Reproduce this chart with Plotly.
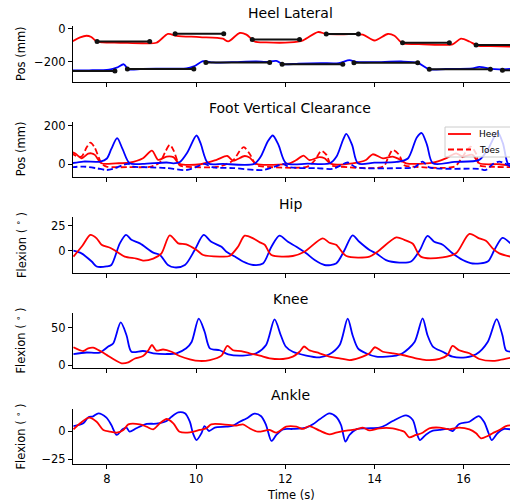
import plotly.graph_objects as go

# ---------------- data ----------------
# Heel Lateral (mm)
hl_r_t = [7.20, 7.40, 7.54, 7.65, 7.77, 7.90, 8.3, 8.8, 9.11, 9.37, 9.56, 10.08, 10.60, 10.72, 10.98, 11.13, 11.31, 11.57, 12.1, 12.4, 12.73, 12.92, 13.3, 13.74, 14.0, 14.30, 14.45, 14.63, 15.0, 15.5, 15.75, 15.94, 16.13, 16.31, 16.6, 17.05]
hl_r_v = [-80, -52, -42, -50, -77, -83, -85, -88, -85, -31, -42, -50, -60, -77, -25, -35, -77, -83, -83, -70, -19, -31, -33, -35, -71, -31, -42, -88, -93, -98, -95, -60, -77, -102, -105, -108]
hl_b_t = [7.20, 7.6, 8.05, 8.22, 8.38, 8.48, 8.8, 9.4, 9.78, 9.95, 10.16, 10.38, 10.8, 11.35, 11.57, 11.80, 11.95, 12.3, 12.8, 13.2, 13.44, 13.59, 14.0, 14.6, 14.97, 15.23, 15.6, 16.20, 16.35, 16.6, 16.80, 17.05]
hl_b_v = [-254, -254, -250, -238, -217, -248, -245, -244, -243, -230, -198, -206, -204, -199, -203, -196, -217, -213, -210, -210, -192, -203, -204, -200, -208, -248, -246, -242, -233, -245, -248, -245]
# ground-contact segments (start, end, level)
seg_r_start = [7.78, 9.53, 11.26, 12.92, 14.63, 16.28]
seg_r_end = [8.96, 10.62, 12.32, 13.64, 15.68, 17.30]
seg_r_level = [-77, -29, -65, -31, -85, -98]
seg_b_start = [7.00, 8.46, 10.22, 11.93, 13.54, 15.23, 16.87]
seg_b_end = [8.18, 9.95, 11.65, 13.29, 14.97, 16.60, 17.50]
seg_b_level = [-258, -246, -206, -217, -208, -248, -254]

# Foot Vertical Clearance (mm)
fv_rh_t = [7.20, 7.30, 7.43, 7.58, 7.65, 7.73, 7.88, 8.2, 8.5, 8.81, 9.01, 9.15, 9.34, 9.49, 9.63, 10.1, 10.46, 10.70, 10.83, 11.09, 11.20, 11.35, 12.1, 12.25, 12.41, 12.54, 12.77, 12.88, 13.03, 13.51, 13.81, 13.96, 14.19, 14.41, 14.56, 14.71, 15.3, 15.60, 15.83, 15.98, 16.20, 16.35, 16.8, 17.05]
fv_rh_v = [65, 55, 31, 55, 57, 49, 5, 5, 8, 31, 71, 23, 40, 37, 2, 0, 23, 43, 19, 43, 35, 2, 5, 22, 45, 22, 37, 31, 2, 5, 22, 52, 31, 40, 26, 5, 8, 31, 57, 40, 49, 5, 0, -7]
fv_rt_t = [7.20, 7.30, 7.43, 7.55, 7.63, 7.72, 7.88, 7.99, 8.5, 9.0, 9.19, 9.30, 9.41, 9.50, 9.63, 9.75, 10.5, 10.83, 10.98, 11.07, 11.20, 11.35, 11.5, 12.5, 12.66, 12.81, 12.92, 13.03, 13.2, 14.2, 14.30, 14.41, 14.55, 14.67, 14.85, 15.8, 15.95, 16.16, 16.28, 16.35, 16.5, 17.05]
fv_rt_v = [60, 45, 40, 90, 113, 90, 5, -12, -15, -12, 10, 60, 101, 70, -5, -12, -13, 20, 70, 89, 55, -5, -12, -12, 20, 70, 50, -5, -12, -12, 30, 75, 50, -5, -12, -12, 30, 92, 55, -5, -12, -15]
fv_lh_t = [7.20, 7.47, 7.85, 8.0, 8.10, 8.23, 8.35, 8.51, 8.8, 9.34, 9.49, 9.63, 9.80, 10.01, 10.10, 10.27, 10.6, 11.3, 11.45, 11.61, 11.72, 11.85, 12.02, 12.5, 13.0, 13.15, 13.30, 13.37, 13.50, 13.63, 14.0, 14.5, 14.75, 14.95, 15.06, 15.18, 15.31, 15.8, 16.35, 16.55, 16.76, 16.88, 16.99, 17.05]
fv_lh_v = [5, 14, 14, 30, 80, 136, 80, 5, 2, 9, 5, 10, 60, 150, 110, 5, 2, 2, 40, 120, 150, 100, 5, 3, 5, 40, 130, 158, 100, 5, 8, 12, 30, 140, 163, 100, 5, 12, 23, 80, 167, 110, 5, 2]
fv_lt_t = [7.20, 7.47, 7.77, 7.99, 8.14, 8.35, 8.48, 8.59, 8.96, 9.34, 9.78, 10.05, 10.19, 10.38, 10.83, 11.50, 11.80, 11.95, 12.10, 12.69, 13.07, 13.25, 13.40, 13.59, 14.56, 14.90, 15.08, 15.23, 16.35, 16.50, 16.65, 16.80, 17.05]
fv_lt_v = [-16, -12, -21, -30, -24, -5, 2, -12, -16, -20, -30, -10, 2, -16, -20, -30, -10, 2, -16, -20, -24, -5, 9, -16, -20, -15, 14, -16, -24, -30, 0, 14, -12]
legend_names = ["Heel", "Toes"]

# Hip flexion (deg)
hip_r_t = [7.25, 7.45, 7.63, 7.77, 7.88, 8.07, 8.22, 8.40, 8.66, 8.81, 9.04, 9.22, 9.41, 9.60, 9.78, 10.01, 10.16, 10.53, 10.75, 10.94, 11.09, 11.28, 11.43, 11.54, 11.69, 12.17, 12.43, 12.84, 12.99, 13.14, 13.37, 13.89, 14.07, 14.49, 14.67, 14.86, 15.04, 15.53, 15.83, 16.13, 16.35, 16.50, 16.65, 16.80, 17.05]
hip_r_v = [-6, 5, 16, 12.5, 6, 3, -1, -6, -8, -10, -8, -3, 15.5, 7.4, 6.4, 0.7, -4.4, -6, -5.4, 4, 15.2, 12.5, 8.4, 6, -4.4, -5.4, -1, 12.5, 8, 6, -5.4, -6, -1, 13.5, 11, 7, -6, -6.8, -2.7, 17, 12.5, 10, 2.4, -2.7, -6]
hip_l_t = [7.25, 7.43, 7.66, 7.77, 7.99, 8.10, 8.29, 8.43, 8.55, 8.74, 9.04, 9.19, 9.37, 9.52, 9.75, 9.97, 10.17, 10.34, 10.57, 10.68, 10.87, 11.05, 11.28, 11.50, 11.69, 11.87, 12.06, 12.25, 12.47, 12.66, 12.88, 13.14, 13.33, 13.51, 13.66, 13.89, 14.04, 14.26, 14.56, 14.82, 15.02, 15.19, 15.34, 15.53, 15.75, 15.98, 16.20, 16.54, 16.69, 16.87, 17.05]
hip_l_v = [0, -2.7, -11, -16, -16, -14.5, 7.4, 16, 11, 7.4, -2, -4.4, -14.5, -17, -14.5, 0.7, 16, 9, 4, -1, -6, -11, -14.5, -13, 4, 15.2, 9, 4, -2.7, -9.5, -14.5, -13, 0.7, 15.5, 9, 0.7, -2.7, -9.5, -12, -11, 0.7, 15, 9, 6, -2.7, -9.5, -13, -11, 0.7, 13, 7.4]

# Knee flexion (deg)
knee_l_t = [7.25, 7.54, 7.84, 8.03, 8.14, 8.31, 8.44, 8.55, 8.81, 9.04, 9.34, 9.56, 9.78, 9.90, 10.06, 10.19, 10.31, 10.53, 10.72, 11.05, 11.35, 11.57, 11.76, 11.90, 12.01, 12.17, 12.47, 12.77, 12.99, 13.22, 13.40, 13.51, 13.63, 13.81, 14.04, 14.49, 14.63, 14.90, 15.08, 15.19, 15.31, 15.53, 15.75, 16.05, 16.28, 16.54, 16.74, 16.87, 16.95, 17.05]
knee_l_v = [15, 17, 17, 25, 29, 57, 40, 18, 19, 16, 15, 16, 22.6, 31, 62, 45, 22.6, 20, 14.6, 13, 16, 27, 61, 40, 25, 18, 13, 10.6, 14.6, 27, 62, 40, 22.6, 16, 11.5, 13, 16, 31, 62.4, 40, 25, 18, 11.5, 10.6, 14.6, 31, 61.5, 40, 20, 18]
knee_r_t = [7.25, 7.47, 7.58, 7.69, 7.88, 8.03, 8.18, 8.33, 8.48, 8.63, 8.81, 8.93, 9.01, 9.11, 9.26, 9.45, 9.63, 9.86, 10.08, 10.31, 10.57, 10.70, 10.83, 11.01, 11.20, 11.43, 11.65, 11.95, 12.17, 12.32, 12.42, 12.54, 12.77, 12.99, 13.22, 13.44, 13.66, 13.89, 14.01, 14.19, 14.41, 14.63, 14.93, 15.16, 15.46, 15.64, 15.75, 15.90, 16.13, 16.35, 16.65, 16.80, 17.05]
knee_r_v = [24, 19, 22.6, 23.5, 18, 12.4, 7, 2.7, 4, 9, 12.4, 20, 27, 19.5, 21, 18, 12.4, 8, 5.8, 7, 12.8, 25.7, 20, 19, 16, 12.8, 9.3, 8.4, 11.5, 18, 25, 20, 16, 11.5, 9.3, 7, 10, 16, 24, 18, 16, 13.7, 9.3, 7, 8.4, 13.7, 25.7, 20, 16, 8.4, 5.8, 7, 10]

# Ankle flexion (deg)
ank_l_t = [7.25, 7.47, 7.58, 7.69, 7.81, 7.99, 8.10, 8.22, 8.35, 8.44, 8.51, 8.66, 8.89, 9.11, 9.34, 9.45, 9.60, 9.75, 9.86, 9.93, 10.01, 10.12, 10.19, 10.29, 10.42, 10.68, 10.83, 10.98, 11.13, 11.31, 11.46, 11.57, 11.69, 11.80, 11.95, 12.17, 12.47, 12.62, 12.77, 12.99, 13.14, 13.25, 13.35, 13.44, 13.59, 13.81, 14.11, 14.26, 14.41, 14.71, 14.86, 14.95, 15.02, 15.16, 15.31, 15.46, 15.64, 15.75, 15.90, 16.13, 16.34, 16.46, 16.56, 16.63, 16.76, 16.91, 17.05]
ank_l_v = [4.4, 6.8, 12, 13, 15.6, 11.8, 5.3, -3.5, 1.5, 3, -0.6, 2.4, 6.2, 6.5, 8.8, 12.6, 16.5, 15.6, 8.2, -2, -8, -2, 4.4, 0, 3, 3.8, 4.7, 8.2, 11, 15.3, 13, 5.3, -8.8, -3.5, 1.5, 1.8, 3, 5.9, 10.3, 15.6, 12.6, 5.3, -9.4, -3.5, 1.5, 2.4, 3, 5.3, 8.8, 13.8, 9.7, -2, -8, -3, 0.3, 1, 1.8, 0, 6.2, 8.2, 13.2, 8, -2, -8, -2, 1.8, 1.5]
ank_r_t = [7.25, 7.40, 7.60, 7.77, 7.92, 8.07, 8.22, 8.37, 8.48, 8.74, 8.89, 9.04, 9.19, 9.34, 9.49, 9.63, 9.86, 10.08, 10.23, 10.34, 10.60, 10.90, 11.05, 11.20, 11.39, 11.65, 11.80, 12.02, 12.25, 12.40, 12.54, 12.77, 12.99, 13.14, 13.37, 13.59, 13.74, 13.89, 14.11, 14.41, 14.56, 14.67, 14.78, 14.93, 15.08, 15.23, 15.46, 15.68, 15.90, 16.13, 16.28, 16.39, 16.54, 16.65, 16.80, 16.95, 17.05]
ank_r_v = [1.5, 6.8, 11.8, 8.2, 0.9, -0.6, -1.5, 0.9, 5.9, 5.9, 3.8, 1.5, 6.8, 10.6, 6.8, -0.6, -1.2, 0.9, 2.4, 5.9, 5.9, 4.7, 5.9, 2.4, -0.6, 0.9, -1.5, 3.8, 3.8, 1.8, 4.4, 0.3, -2.9, -1.5, 0.3, 1.5, 3, 0.5, 2.4, 2.4, 0.9, -0.6, -5.6, -3.5, -1.5, 2.4, 3, 1.5, 3, 1.5, -2, -6.5, -4.4, -2, 0.9, 4.4, 5]

titles = ["Heel Lateral", "Foot Vertical Clearance", "Hip", "Knee", "Ankle"]
ylabels = ["Pos (mm)", "Pos (mm)", "Flexion ( <sup>∘</sup> )", "Flexion ( <sup>∘</sup> )", "Flexion ( <sup>∘</sup> )"]
ytickvals = [[-200, 0], [0, 200], [0, 25], [0, 50], [-25, 0]]
yranges = [[-326, 18], [-65, 222], [-22.3, 33.8], [-4, 70], [-29.4, 19.7]]
xtickvals = [8, 10, 12, 14, 16]
xrange_ = [7.24, 17.04]

# ---------------- layout geometry (screen pixels) ----------------
W, H = 510, 504
L = 73
panel_px = [(26, 82), (121.7, 176.7), (217.3, 272.7), (312.7, 368.3), (408.7, 464.3)]

def px(x):
    return (x - L) / (W - L)

def py(y):
    return 1 - y / H

RED = "#ff0000"
BLUE = "#0000ff"
LW = 1.8
DASH = "6px,3px"
FONT = "DejaVu Sans"

fig = go.Figure()

def add(t, v, color, idx, dash="solid"):
    fig.add_trace(go.Scatter(
        x=t, y=v, mode="lines", line=dict(color=color, width=LW, dash=dash, shape="spline", smoothing=0.8),
        xaxis="x" if idx == 1 else f"x{idx}", yaxis="y" if idx == 1 else f"y{idx}",
        showlegend=False, hoverinfo="skip"))

# panel 1
add(hl_r_t, hl_r_v, RED, 1)
add(hl_b_t, hl_b_v, BLUE, 1)
for st, en, lv in ((seg_r_start, seg_r_end, seg_r_level), (seg_b_start, seg_b_end, seg_b_level)):
    xs, ys = [], []
    for a, b, c in zip(st, en, lv):
        xs += [a, b, None]
        ys += [c, c, None]
    fig.add_trace(go.Scatter(x=xs, y=ys, mode="lines+markers",
                             line=dict(color="#111111", width=2), marker=dict(color="#111111", size=5),
                             xaxis="x", yaxis="y", showlegend=False, hoverinfo="skip"))
# panel 2
add(fv_rh_t, fv_rh_v, RED, 2)
add(fv_rt_t, fv_rt_v, RED, 2, dash=DASH)
add(fv_lh_t, fv_lh_v, BLUE, 2)
add(fv_lt_t, fv_lt_v, BLUE, 2, dash=DASH)
# panel 3-5
add(hip_l_t, hip_l_v, BLUE, 3)
add(hip_r_t, hip_r_v, RED, 3)
add(knee_l_t, knee_l_v, BLUE, 4)
add(knee_r_t, knee_r_v, RED, 4)
add(ank_l_t, ank_l_v, BLUE, 5)
add(ank_r_t, ank_r_v, RED, 5)

layout = dict(
    width=W, height=H, margin=dict(l=L, r=0, t=0, b=0, autoexpand=False),
    paper_bgcolor="white", plot_bgcolor="white", showlegend=False,
    font=dict(family=FONT, size=11.5, color="black"),
)
annotations = []
for i in range(5):
    k = i + 1
    top, bot = panel_px[i]
    dom = [py(bot), py(top)]
    xa = dict(domain=[0, 1], range=xrange_, anchor="y" if k == 1 else f"y{k}",
              showline=True, linecolor="black", linewidth=1, ticks="outside", ticklen=4,
              tickwidth=1, tickcolor="black", tickvals=xtickvals, showgrid=False, zeroline=False,
              showticklabels=(k == 5), tickfont=dict(size=11.5))
    ya = dict(domain=dom, range=yranges[i], anchor="x" if k == 1 else f"x{k}",
              showline=True, linecolor="black", linewidth=1, ticks="outside", ticklen=4,
              tickwidth=1, tickcolor="black", tickvals=ytickvals[i], showgrid=False, zeroline=False,
              tickfont=dict(size=11.5))
    layout["xaxis" if k == 1 else f"xaxis{k}"] = xa
    layout["yaxis" if k == 1 else f"yaxis{k}"] = ya
    annotations.append(dict(text=titles[i], xref="paper", yref="paper", x=px(290),
                            y=py(top - 13.5), xanchor="center", yanchor="middle",
                            showarrow=False, font=dict(size=14)))
    annotations.append(dict(text=ylabels[i], xref="paper", yref="paper", x=px(21),
                            y=py((top + bot) / 2), xanchor="center", yanchor="middle",
                            textangle=-90, showarrow=False, font=dict(size=11.5)))
annotations.append(dict(text="Time (s)", xref="paper", yref="paper", x=px(291),
                        y=py(495), xanchor="center", yanchor="middle", showarrow=False,
                        font=dict(size=11.5)))

# legend box for the Foot Vertical Clearance panel (drawn like a matplotlib legend)
shapes = [dict(type="rect", xref="paper", yref="paper", x0=px(445), x1=px(514), y0=py(157), y1=py(127),
               fillcolor="rgba(255,255,255,0.8)", line=dict(color="#cccccc", width=1), layer="above")]
for j, (nm, ds) in enumerate(zip(legend_names, ["solid", DASH])):
    yy = 134 + 15.5 * j
    shapes.append(dict(type="line", xref="paper", yref="paper", x0=px(448), x1=px(471),
                       y0=py(yy), y1=py(yy), line=dict(color=RED, width=LW, dash=ds), layer="above"))
    annotations.append(dict(text=nm, xref="paper", yref="paper", x=px(477), y=py(yy),
                            xanchor="left", yanchor="middle", showarrow=False, font=dict(size=9)))
layout["shapes"] = shapes
layout["annotations"] = annotations
fig.update_layout(**layout)
fig.write_html("out.html", config={"displayModeBar": False},
               post_script="document.body.style.margin='0';document.body.style.padding='0';")
